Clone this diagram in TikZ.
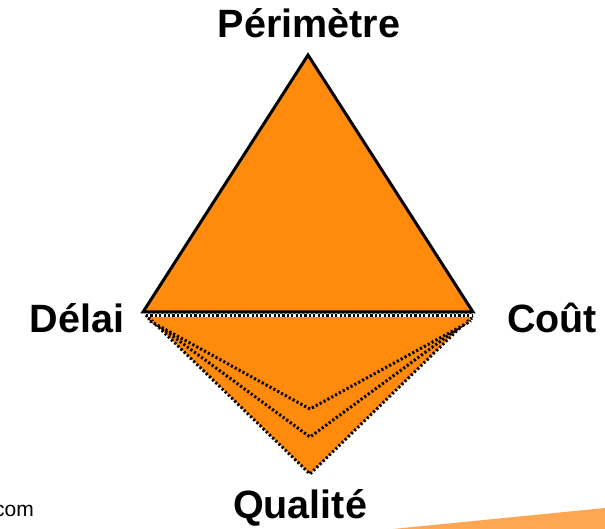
\documentclass[tikz,border=0pt]{standalone}
\usepackage{fontspec}
\setmainfont{Liberation Sans}
\definecolor{tri}{RGB}{255,138,12}
\definecolor{wedge}{RGB}{255,166,82}
\begin{document}
\begin{tikzpicture}[x=1pt,y=-1pt,
  lbl/.style={font=\fontsize{39.5}{44}\selectfont\bfseries, inner sep=0pt, anchor=base},
  dotline/.style={draw=black, line width=3pt, dash pattern=on 2.2pt off 2.2pt, fill=tri},
  solidtri/.style={draw=black, line width=3pt, fill=tri, line join=miter}]
\useasboundingbox (0,0) rectangle (605,529);
% background wedge
\fill[wedge] (393,529) -- (605,508) -- (605,529) -- cycle;
% lower dotted triangles
\coordinate (L3) at (146,315); \coordinate (B3) at (310,474); \coordinate (R3) at (473,315);
\coordinate (L2) at (148,318); \coordinate (B2) at (310,437); \coordinate (R2) at (472,318);
\coordinate (L1) at (150,321); \coordinate (B1) at (310,409); \coordinate (R1) at (471,321);
\path[dotline] (L3) -- (B3) -- (R3) -- cycle;
\path[dotline] (L2) -- (B2) -- (R2);
\path[dotline] (L1) -- (B1) -- (R1);
% top edge of lower triangles: white then dotted
\draw[white, line width=2.4pt] (146,315.5) -- (473,315.5);
\draw[black, line width=2.4pt, dash pattern=on 2.2pt off 2.2pt] (146,315.5) -- (473,315.5);
% upper triangle
\coordinate (T) at (308,55); \coordinate (L) at (143,312); \coordinate (R) at (473,312);
\path[solidtri] (T) -- (L) -- (R) -- cycle;
% labels
\node[lbl] (per) at (309,38) {Périmètre};
\node[lbl] (del) at (77,332) {Délai};
\node[lbl] (cou) at (552,332) {Coût};
\node[lbl] (qua) at (300,518) {Qualité};
\node[font=\fontsize{21}{24}\selectfont, inner sep=0pt, anchor=base east] (com) at (34,516) {com};
\end{tikzpicture}
\end{document}
